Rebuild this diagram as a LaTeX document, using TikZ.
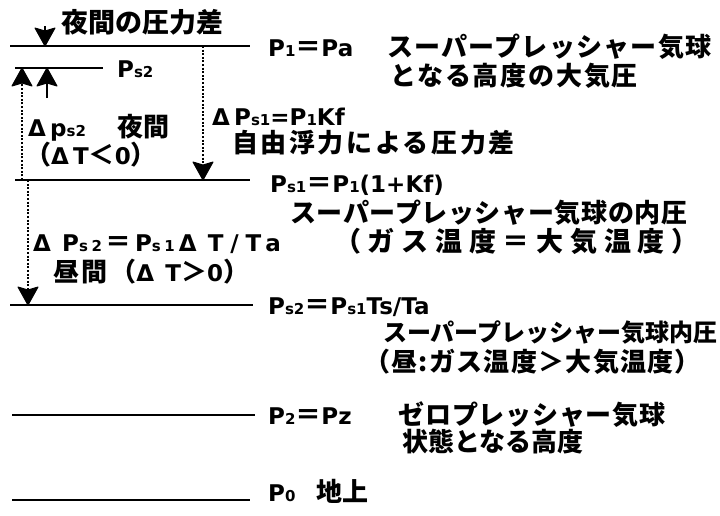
\documentclass[tikz,border=0pt]{standalone}
\usepackage{fontspec}
\setmainfont{Noto Sans CJK JP}
\newfontfamily\latf{DejaVu Sans}
\newcommand\La[1]{{\latf\bfseries\fontsize{23}{26}\selectfont #1}}
\newcommand\Lw[1]{{\latf\bfseries\fontsize{23}{26}\selectfont\addfontfeature{LetterSpace=30}#1}}
\newcommand\sbx[1]{{\latf\bfseries\fontsize{15}{15}\selectfont #1}}
\newcommand\sbw[1]{{\latf\bfseries\fontsize{15}{15}\selectfont\addfontfeature{LetterSpace=24}#1}}
\newcommand\Dl{\makebox[22pt][l]{\La{Δ}}}
\newcommand\Dw{\makebox[29pt][l]{\La{Δ}}}
\newcommand\cjksp[1]{\addfontfeature{LetterSpace=#1}}
\begin{document}
\begin{tikzpicture}[x=1pt,y=-1pt,
  lbl/.style={anchor=base west,inner sep=0pt,font=\fontsize{26}{30}\selectfont\bfseries},
  ttl/.style={anchor=base west,inner sep=0pt,font=\fontsize{27}{32}\selectfont\bfseries},
  lvl/.style={line width=2pt},
  dotl/.style={line width=2.2pt,dash pattern=on 2pt off 1.6pt},
  headfill/.style={fill=black,draw=black,line width=1pt,line join=round}]
\useasboundingbox (0,0) rectangle (720,515);
% level lines
\coordinate (p1a) at (10,46);  \coordinate (p1b) at (250,46);
\coordinate (q2a) at (15,68);  \coordinate (q2b) at (103,68);
\coordinate (s1a) at (15,180); \coordinate (s1b) at (250,180);
\coordinate (s2a) at (10,305); \coordinate (s2b) at (253,305);
\coordinate (p2a) at (12,415); \coordinate (p2b) at (255,415);
\coordinate (p0a) at (12,500); \coordinate (p0b) at (250,500);
\draw[lvl] (p1a) -- (p1b);
\draw[lvl] (q2a) -- (q2b);
\draw[lvl] (s1a) -- (s1b);
\draw[lvl] (s2a) -- (s2b);
\draw[lvl] (p2a) -- (p2b);
\draw[lvl] (p0a) -- (p0b);
% arrows
\coordinate (t0) at (45,26);   \coordinate (t1) at (45,46);
\coordinate (u0) at (22,180);  \coordinate (u1) at (22,68);
\coordinate (v0) at (47,98);   \coordinate (v1) at (47,68);
\coordinate (d0) at (203,46);  \coordinate (d1) at (203,180);
\coordinate (e0) at (28,180);  \coordinate (e1) at (28,305);
\draw[lvl] (t0) -- ([yshift=12pt]t1);
\filldraw[headfill] (t1) -- ++(-10,-18) -- ++(10,3) -- ++(10,-3) -- cycle;
\draw[dotl] (u0) -- ([yshift=-12pt]u1);
\filldraw[headfill] (u1) -- ++(-10,18) -- ++(10,-3) -- ++(10,3) -- cycle;
\draw[lvl] (v0) -- ([yshift=-12pt]v1);
\filldraw[headfill] (v1) -- ++(-10,18) -- ++(10,-3) -- ++(10,3) -- cycle;
\draw[dotl] (d0) -- ([yshift=12pt]d1);
\filldraw[headfill] (d1) -- ++(-10,-18) -- ++(10,3) -- ++(10,-3) -- cycle;
\draw[dotl] (e0) -- ([yshift=12pt]e1);
\filldraw[headfill] (e1) -- ++(-10,-18) -- ++(10,3) -- ++(10,-3) -- cycle;
% labels
\node[ttl] (title) at (61,32) {夜間の圧力差};
\node[lbl,font=\fontsize{26}{30}\selectfont\bfseries\cjksp{5}] (l1) at (268,56) {\La{P}\sbx{1}＝\La{Pa}\hspace{1.3em}スーパープレッシャー気球};
\node[lbl,font=\fontsize{26}{30}\selectfont\bfseries\cjksp{7}] (l1b) at (390,85) {となる高度の大気圧};
\node[lbl] (lq2) at (117,77) {\La{P}\sbx{s2}};
\node[lbl] (ld1) at (212,125) {\Dl\La{P}\sbx{s1}\La{=P}\sbx{1}\La{Kf}};
\node[lbl,font=\fontsize{26}{30}\selectfont\bfseries\cjksp{10}] (ld1b) at (232,152) {自由浮力による圧力差};
\node[lbl] (ln1) at (28,136) {\Dl\La{p}\sbx{s2}\hspace{1.2em}夜間};
\node[lbl] (ln2) at (25,164) {（\Dl\La{T}＜\La{0}）};
\node[lbl] (ls1) at (270,192) {\La{P}\sbx{s1}＝\La{P}\sbx{1}\La{(1+Kf)}};
\node[lbl,font=\fontsize{26}{30}\selectfont\bfseries\cjksp{2.5}] (ls1b) at (290,222) {スーパープレッシャー気球の内圧};
\node[lbl,font=\fontsize{27}{31}\selectfont\bfseries\cjksp{25}] (ls1c) at (334,251) {（ガス温度＝大気温度）};
\node[lbl] (ld2) at (33,251) {\Dw\Lw{P}\sbw{s2}\hspace{3pt}＝\hspace{4pt}\Lw{P}\sbw{s1}\hspace{4pt}\Dw\Lw{T/Ta}};
\node[lbl,font=\fontsize{26}{30}\selectfont\bfseries\cjksp{10}] (ld2b) at (53,281) {昼間（\Dw\Lw{T}＞\La{0}）};
\node[lbl] (ls2) at (268,314) {\La{P}\sbx{s2}＝\La{P}\sbx{s1}\La{Ts/Ta}};
\node[lbl,font=\fontsize{24}{28}\selectfont\bfseries] (ls2b) at (383,341) {スーパープレッシャー気球内圧};
\node[lbl,font=\fontsize{26}{30}\selectfont\bfseries\cjksp{5}] (ls2c) at (364,371) {（昼:ガス温度＞大気温度）};
\node[lbl,font=\fontsize{26}{30}\selectfont\bfseries\cjksp{3}] (lp2) at (268,424) {\La{P}\sbx{2}＝\La{Pz}\hspace{1.8em}ゼロプレッシャー気球};
\node[lbl] (lp2b) at (402,451) {状態となる高度};
\node[lbl] (lp0) at (268,501) {\La{P}\sbx{0}\hspace{0.8em}地上};
\end{tikzpicture}
\end{document}
